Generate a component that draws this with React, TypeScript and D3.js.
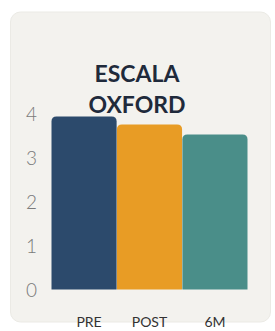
import React, { useRef, useEffect } from "react";
import * as d3 from "d3";

const categories = ["PRE", "POST", "6M"];
const values = [3.93, 3.75, 3.52];
const colors = ["#2c4a6c", "#e89c25", "#4a8e89"];
const yTicks = [0, 1, 2, 3, 4];
const titleLines = ["ESCALA", "OXFORD"];

const W = 275;
const H = 331;

// path for a bar with rounded top corners only
function topRoundedRect(x: number, y: number, w: number, h: number, r: number) {
  return `M${x},${y + h}V${y + r}Q${x},${y} ${x + r},${y}H${x + w - r}Q${x + w},${y} ${x + w},${y + r}V${y + h}Z`;
}

const App: React.FC = () => {
  const svgRef = useRef<SVGSVGElement | null>(null);

  useEffect(() => {
    if (!svgRef.current) return;
    const svg = d3.select(svgRef.current);
    svg.selectAll("*").remove();

    svg.append("rect").attr("width", W).attr("height", H).attr("fill", "#ffffff");

    // card
    svg.append("rect")
      .attr("x", 10.5).attr("y", 12)
      .attr("width", 260).attr("height", 310)
      .attr("rx", 10)
      .attr("fill", "#f3f2ee")
      .attr("stroke", "#ebeae5")
      .attr("stroke-width", 1);

    const x = d3.scaleBand<string>()
      .domain(categories)
      .range([51.5, 247.5])
      .paddingInner(0.005);

    const y = d3.scaleLinear().domain([0, 4]).range([289.5, 113.5]);

    // bars
    svg.append("g")
      .selectAll("path")
      .data(values)
      .enter()
      .append("path")
      .attr("d", (d, i) => {
        const x0 = x(categories[i]) as number;
        return topRoundedRect(x0, y(d), x.bandwidth(), y(0) - y(d), 5);
      })
      .attr("fill", (_d, i) => colors[i]);

    // y tick labels
    svg.append("g")
      .selectAll("text")
      .data(yTicks)
      .enter()
      .append("text")
      .attr("x", 37)
      .attr("y", (d) => y(d) + 1)
      .attr("dy", "0.35em")
      .attr("text-anchor", "end")
      .attr("font-family", "Lato, sans-serif")
      .attr("font-weight", 300)
      .attr("font-size", 19)
      .attr("fill", "#7a7a7a")
      .text((d) => d);

    // x labels (the reference crops them at the bottom edge; kept just inside)
    svg.append("g")
      .selectAll("text")
      .data(categories)
      .enter()
      .append("text")
      .attr("x", (d) => (x(d) as number) + x.bandwidth() / 2 + (d === "PRE" ? 5 : 0))
      .attr("y", 327)
      .attr("text-anchor", "middle")
      .attr("font-family", "Lato, sans-serif")
      .attr("font-size", 14)
      .attr("fill", "#333333")
      .text((d) => d);

    // title
    svg.append("g")
      .selectAll("text")
      .data(titleLines)
      .enter()
      .append("text")
      .attr("x", 137)
      .attr("y", (_d, i) => 82 + i * 31)
      .attr("text-anchor", "middle")
      .attr("font-family", "Lato, sans-serif")
      .attr("font-weight", 700)
      .attr("font-size", 23)
      .attr("fill", "#1f2a3b")
      .text((d) => d);
  }, []);

  return (
    <svg
      ref={svgRef}
      width={W}
      height={H}
      style={{ position: "absolute", left: 0, top: 0 }}
    />
  );
};

export default App;
